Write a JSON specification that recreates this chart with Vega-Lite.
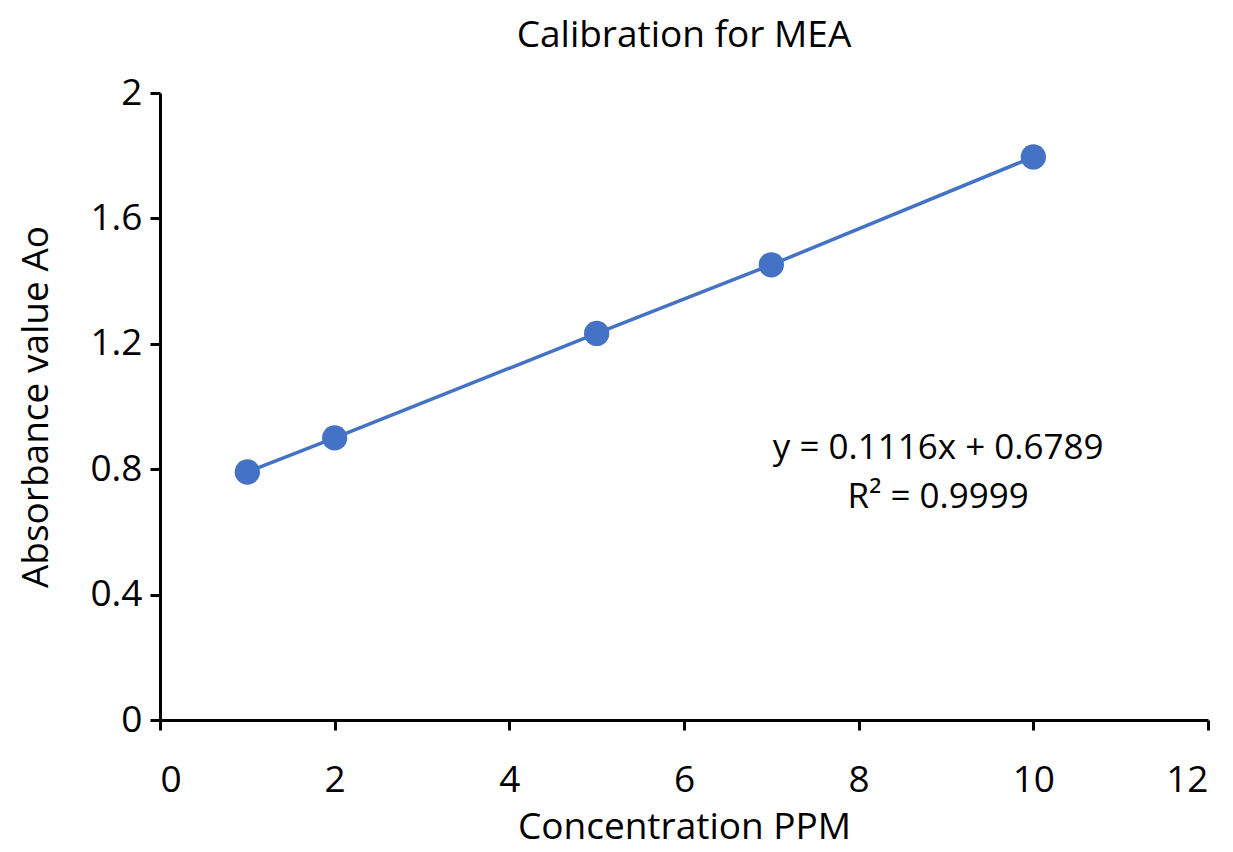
{
  "$schema": "https://vega.github.io/schema/vega-lite/v6.json",
  "width": 1048,
  "height": 627,
  "autosize": "none",
  "padding": {"left": 160, "top": 93, "right": 25, "bottom": 132},
  "background": "white",
  "title": {
    "text": "Calibration for MEA",
    "font": "Open Sans",
    "fontSize": 37,
    "fontWeight": "normal",
    "color": "black",
    "offset": 19
  },
  "datasets": {
    "points": [
      {"ppm": 1, "absorbance": 0.791},
      {"ppm": 2, "absorbance": 0.900},
      {"ppm": 5, "absorbance": 1.233},
      {"ppm": 7, "absorbance": 1.452},
      {"ppm": 10, "absorbance": 1.796}
    ],
    "notes": [
      {"ppm": 8.91, "absorbance": 0.868, "label": "y = 0.1116x + 0.6789"},
      {"ppm": 8.91, "absorbance": 0.711, "label": "R² = 0.9999"}
    ]
  },
  "encoding": {
    "x": {
      "field": "ppm",
      "type": "quantitative",
      "scale": {"domain": [0, 12], "nice": false},
      "axis": {
        "title": "Concentration PPM",
        "values": [0, 2, 4, 6, 8, 10, 12],
        "grid": false,
        "domainColor": "black",
        "domainWidth": 3,
        "tickColor": "black",
        "tickWidth": 3,
        "tickSize": 10,
        "labelFont": "Open Sans",
        "labelFontSize": 37,
        "labelColor": "black",
        "labelPadding": 32,
        "titleFont": "Open Sans",
        "titleFontSize": 37,
        "titleFontWeight": "normal",
        "titleColor": "black",
        "titlePadding": 11
      }
    },
    "y": {
      "field": "absorbance",
      "type": "quantitative",
      "scale": {"domain": [0, 2], "nice": false},
      "axis": {
        "title": "Absorbance value Ao",
        "values": [0, 0.4, 0.8, 1.2, 1.6, 2],
        "format": "~g",
        "grid": false,
        "domainColor": "black",
        "domainWidth": 3,
        "tickColor": "black",
        "tickWidth": 3,
        "tickSize": 10,
        "labelFont": "Open Sans",
        "labelFontSize": 37,
        "labelColor": "black",
        "labelPadding": 8,
        "titleFont": "Open Sans",
        "titleFontSize": 37,
        "titleFontWeight": "normal",
        "titleColor": "black",
        "titlePadding": 34
      }
    }
  },
  "layer": [
    {
      "data": {"name": "points"},
      "mark": {"type": "line", "color": "#4472C4", "strokeWidth": 3.5},
      "encoding": {}
    },
    {
      "data": {"name": "points"},
      "mark": {"type": "circle", "color": "#4472C4", "opacity": 1, "size": 640},
      "encoding": {}
    },
    {
      "data": {"name": "notes"},
      "mark": {"type": "text", "font": "Open Sans", "fontSize": 35, "color": "black", "align": "center", "baseline": "middle"},
      "encoding": {"text": {"field": "label"}}
    }
  ],
  "config": {"view": {"stroke": null}}
}
